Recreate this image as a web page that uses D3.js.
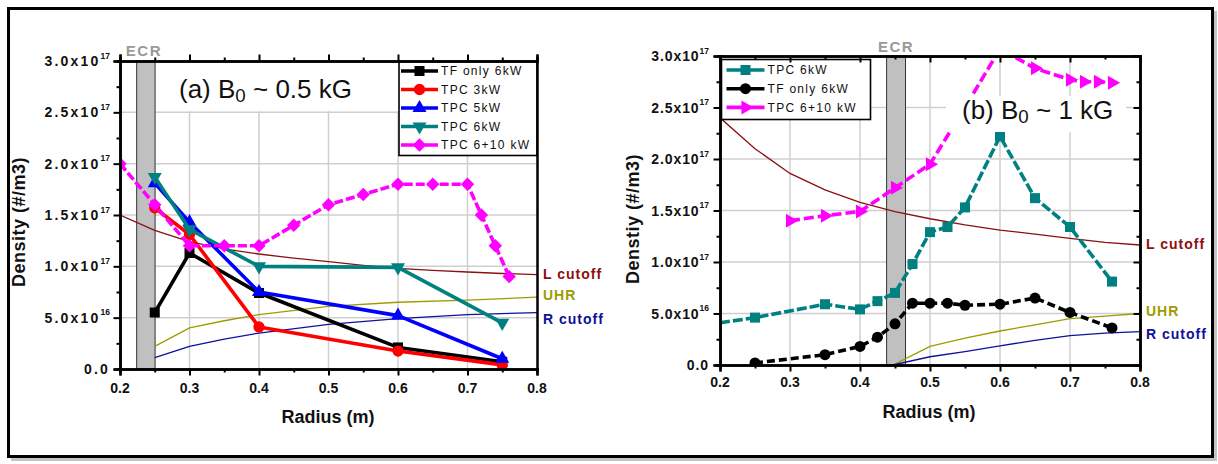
<!DOCTYPE html>
<html>
<head>
<meta charset="utf-8">
<script src="https://cdn.jsdelivr.net/npm/d3@7"></script>
<style>
  html, body { margin: 0; padding: 0; background: #fff; }
  svg { display: block; font-family: "Liberation Sans", Arial, sans-serif; }
</style>
</head>
<body>
<svg id="fig" width="1218" height="464"></svg>
<script>
// ---------- shared axis ticks (density in units of 1e17 m^-3) ----------
const xMajor = [0.2, 0.3, 0.4, 0.5, 0.6, 0.7, 0.8];
const xMinor = [0.25, 0.35, 0.45, 0.55, 0.65, 0.75];
const xTickLabels = ["0.2", "0.3", "0.4", "0.5", "0.6", "0.7", "0.8"];
const yMajor = [0, 0.5, 1.0, 1.5, 2.0, 2.5, 3.0];
const yMinor = [0.25, 0.75, 1.25, 1.75, 2.25, 2.75];
const yTickMantissa = ["0.0", "5.0x10", "1.0x10", "1.5x10", "2.0x10", "2.5x10", "3.0x10"];
const yTickExponent = ["", "16", "17", "17", "17", "17", "17"];

// ---------- panel (a): B0 ~ 0.5 kG ----------
const aRadius = [0.25, 0.3, 0.4, 0.6, 0.75];
const aTFonly6 = [0.55, 1.13, 0.74, 0.21, 0.07];
const aTPC3 = [1.57, 1.31, 0.41, 0.175, 0.04];
const aTPC5 = [1.81, 1.43, 0.75, 0.52, 0.10];
const aTPC6 = [1.87, 1.36, 1.00, 0.99, 0.45];
const aRadius610 = [0.2, 0.25, 0.3, 0.35, 0.4, 0.45, 0.5, 0.55, 0.6, 0.65, 0.7, 0.72, 0.74, 0.76];
const aTPC610 = [2.0, 1.6, 1.2, 1.2, 1.2, 1.4, 1.6, 1.7, 1.8, 1.8, 1.8, 1.5, 1.2, 0.9];
const aCutRadiusL = [0.2, 0.25, 0.3, 0.35, 0.4, 0.45, 0.5, 0.55, 0.6, 0.65, 0.7, 0.75, 0.8];
const aLcutoff = [1.5, 1.35, 1.24, 1.17, 1.12, 1.08, 1.045, 1.01, 0.98, 0.96, 0.945, 0.93, 0.92];
const aCutRadius = [0.25, 0.3, 0.35, 0.4, 0.5, 0.6, 0.7, 0.8];
const aUHR = [0.22, 0.40, 0.47, 0.53, 0.61, 0.65, 0.67, 0.70];
const aRcutoff = [0.11, 0.22, 0.29, 0.35, 0.435, 0.49, 0.53, 0.55];
const aECR = [0.224, 0.2505];

// ---------- panel (b): B0 ~ 1 kG ----------
const bRadiusTPC6 = [0.2, 0.25, 0.35, 0.4, 0.425, 0.45, 0.475, 0.5, 0.525, 0.55, 0.6, 0.65, 0.7, 0.76];
const bTPC6 = [0.41, 0.46, 0.59, 0.54, 0.62, 0.70, 0.98, 1.29, 1.34, 1.53, 2.22, 1.62, 1.34, 0.81];
const bRadiusTF = [0.25, 0.35, 0.4, 0.425, 0.45, 0.475, 0.5, 0.525, 0.55, 0.6, 0.65, 0.7, 0.76];
const bTFonly6 = [0.02, 0.10, 0.18, 0.27, 0.40, 0.60, 0.60, 0.60, 0.58, 0.59, 0.65, 0.51, 0.36];
const bRadius610 = [0.3, 0.35, 0.4, 0.45, 0.5, 0.55, 0.6, 0.65, 0.7, 0.72, 0.74, 0.76];
const bTPC610 = [1.40, 1.45, 1.49, 1.72, 1.95, 2.50, 3.07, 2.88, 2.77, 2.75, 2.75, 2.74];
const bCutRadiusL = [0.2, 0.25, 0.3, 0.35, 0.4, 0.45, 0.5, 0.55, 0.6, 0.65, 0.7, 0.75, 0.8];
const bLcutoff = [2.4, 2.1, 1.86, 1.70, 1.58, 1.49, 1.42, 1.36, 1.31, 1.27, 1.23, 1.19, 1.165];
const bCutRadius = [0.447, 0.5, 0.55, 0.6, 0.65, 0.7, 0.75, 0.8];
const bUHR = [0.0, 0.18, 0.26, 0.33, 0.39, 0.45, 0.475, 0.50];
const bRcutoff = [0.0, 0.08, 0.13, 0.185, 0.24, 0.285, 0.31, 0.325];
const bECR = [0.438, 0.465];

const COLORS = {
  black: "#000000", red: "#ff0000", blue: "#0000ff", teal: "#008080", magenta: "#ff00ff",
  lcut: "#8b1010", uhr: "#9c9c00", rcut: "#10109a", ecr: "#999999", grid: "#cfcfcf"
};

const zip = (r, v) => r.map((d, i) => ({ r: d, v: v[i] }));

const svg = d3.select("#fig");

// outer frame with a soft drop shadow
svg.append("rect").attr("x", 11).attr("y", 11).attr("width", 1206).attr("height", 450).attr("fill", "#c4c4c4");
svg.append("rect").attr("x", 8.5).attr("y", 8.5).attr("width", 1204).attr("height", 448)
  .attr("fill", "#fff").attr("stroke", "#000").attr("stroke-width", 3);

function symbolPath(kind, size) {
  switch (kind) {
    case "square": return { d: d3.symbol(d3.symbolSquare, size)(), rot: 0 };
    case "circle": return { d: d3.symbol(d3.symbolCircle, size)(), rot: 0 };
    case "triUp": return { d: d3.symbol(d3.symbolTriangle, size)(), rot: 0 };
    case "triDown": return { d: d3.symbol(d3.symbolTriangle, size)(), rot: 180 };
    case "triRight": return { d: d3.symbol(d3.symbolTriangle, size)(), rot: 90 };
    case "diamond": return { d: d3.symbol(d3.symbolSquare, size)(), rot: 45 };
  }
}

function drawPanel(p) {
  const x = d3.scaleLinear().domain([0.2, 0.8]).range([p.left, p.right]);
  const y = d3.scaleLinear().domain([0, 3]).range([p.bottom, p.top]);
  const g = svg.append("g");

  const clipId = "clip-" + p.id;
  g.append("clipPath").attr("id", clipId).append("rect")
    .attr("x", p.left).attr("y", p.top).attr("width", p.right - p.left).attr("height", p.bottom - p.top);

  // grid
  const grid = g.append("g").attr("stroke", COLORS.grid).attr("stroke-width", 1.5);
  xMajor.slice(1, -1).forEach(v => grid.append("line")
    .attr("x1", x(v)).attr("x2", x(v)).attr("y1", p.top).attr("y2", p.bottom));
  yMajor.slice(1, -1).forEach(v => grid.append("line")
    .attr("x1", p.left).attr("x2", p.right).attr("y1", y(v)).attr("y2", y(v)));

  // ECR band
  g.append("rect").attr("x", x(p.ecr[0])).attr("y", p.top)
    .attr("width", x(p.ecr[1]) - x(p.ecr[0])).attr("height", p.bottom - p.top)
    .attr("fill", "#c0c0c0").attr("stroke", "#333").attr("stroke-width", 1);
  g.append("text").attr("x", (x(p.ecr[0]) + x(p.ecr[1])) / 2 + p.ecrLabelDx).attr("y", p.top - p.ecrLabelGap)
    .attr("text-anchor", "middle").attr("font-weight", "bold").attr("font-size", 15)
    .attr("letter-spacing", 1.5).attr("fill", COLORS.ecr).text("ECR");

  const dataG = g.append("g").attr("clip-path", `url(#${clipId})`);
  const line = d3.line().x(d => x(d.r)).y(d => y(d.v));

  // cutoff curves
  p.cuts.forEach(c => {
    const pts = zip(c.r, c.v);
    dataG.append("path").attr("d", line(pts)).attr("fill", "none")
      .attr("stroke", c.color).attr("stroke-width", 1.3);
    const last = pts[pts.length - 1];
    g.append("text").attr("x", p.right + 6).attr("y", y(last.v) + c.dy).attr("dy", "0.36em")
      .attr("font-weight", "bold").attr("font-size", 14).attr("letter-spacing", 1)
      .attr("fill", c.color).text(c.name);
  });

  // measured series
  p.series.forEach(s => {
    const pts = zip(s.r, s.v);
    dataG.append("path").attr("d", line(pts)).attr("fill", "none")
      .attr("stroke", s.color).attr("stroke-width", 3.6)
      .attr("stroke-dasharray", s.dash || null).attr("stroke-linejoin", "round");
    const sym = symbolPath(s.symbol, s.size);
    dataG.selectAll(null).data(pts.slice(s.markFrom || 0)).enter().append("path")
      .attr("d", sym.d).attr("fill", s.color)
      .attr("transform", d => `translate(${x(d.r)},${y(d.v)}) rotate(${sym.rot})`);
  });

  // title with opaque backing
  g.append("rect").attr("x", p.titleBox[0]).attr("y", p.titleBox[1])
    .attr("width", p.titleBox[2]).attr("height", p.titleBox[3]).attr("fill", "#fff");
  const t = g.append("text").attr("x", p.titleX).attr("y", p.titleY)
    .attr("font-size", p.titleSize).attr("fill", "#111");
  t.append("tspan").text(p.titleA);
  t.append("tspan").attr("font-size", p.titleSize * 0.72).attr("dy", 4).text("0");
  t.append("tspan").attr("dy", -4).text(p.titleB);

  // legend
  const lg = g.append("g");
  const rows = p.series.length;
  lg.append("rect").attr("x", p.legend.x).attr("y", p.legend.y)
    .attr("width", p.legend.w).attr("height", p.legend.h)
    .attr("fill", "#fff").attr("stroke", "#000").attr("stroke-width", 1.6);
  p.legendOrder.forEach((si, i) => {
    const s = p.series[si];
    const cy = p.legend.y + p.legend.first + i * p.legend.step;
    lg.append("line").attr("x1", p.legend.x + p.legend.l0).attr("x2", p.legend.x + p.legend.l1)
      .attr("y1", cy).attr("y2", cy).attr("stroke", s.color).attr("stroke-width", 3.6);
    const sym = symbolPath(s.symbol, s.size);
    lg.append("path").attr("d", sym.d).attr("fill", s.color)
      .attr("transform", `translate(${p.legend.x + (p.legend.l0 + p.legend.l1) / 2},${cy}) rotate(${sym.rot})`);
    lg.append("text").attr("x", p.legend.x + p.legend.tx).attr("y", cy).attr("dy", "0.36em")
      .attr("font-size", 12).attr("letter-spacing", 1.3).attr("fill", "#111").text(s.name);
  });

  // axes
  const styleAxis = sel => {
    sel.select(".domain").attr("stroke", "#000").attr("stroke-width", 2.5);
    sel.selectAll(".tick line").attr("stroke", "#000").attr("stroke-width", 2);
    sel.selectAll(".tick text").remove();
  };
  const bottom = d3.axisBottom(x).tickSizeOuter(0).tickFormat("");
  g.append("g").attr("transform", `translate(0,${p.bottom})`)
    .call(bottom.tickValues(xMinor).tickSize(3.5)).call(styleAxis);
  g.append("g").attr("transform", `translate(0,${p.bottom})`)
    .call(d3.axisBottom(x).tickSizeOuter(0).tickFormat("").tickValues(xMajor).tickSize(6.5)).call(styleAxis);
  g.append("g").attr("transform", `translate(0,${p.top})`)
    .call(d3.axisTop(x).tickSizeOuter(0).tickFormat("").tickValues(xMinor).tickSize(3.5 * p.mirrorDir)).call(styleAxis);
  g.append("g").attr("transform", `translate(0,${p.top})`)
    .call(d3.axisTop(x).tickSizeOuter(0).tickFormat("").tickValues(xMajor).tickSize(6.5 * p.mirrorDir)).call(styleAxis);
  g.append("g").attr("transform", `translate(${p.left},0)`)
    .call(d3.axisLeft(y).tickSizeOuter(0).tickFormat("").tickValues(yMinor).tickSize(3.5)).call(styleAxis);
  g.append("g").attr("transform", `translate(${p.left},0)`)
    .call(d3.axisLeft(y).tickSizeOuter(0).tickFormat("").tickValues(yMajor).tickSize(6.5)).call(styleAxis);
  const rightAx = g.append("g").attr("transform", `translate(${p.right},0)`);
  if (p.rightTicks) {
    rightAx.call(d3.axisRight(y).tickSizeOuter(0).tickFormat("").tickValues(yMinor).tickSize(-3.5)).call(styleAxis);
    g.append("g").attr("transform", `translate(${p.right},0)`)
      .call(d3.axisRight(y).tickSizeOuter(0).tickFormat("").tickValues(yMajor).tickSize(-6.5)).call(styleAxis);
  } else {
    rightAx.call(d3.axisRight(y).tickSizeOuter(0).tickFormat("").tickValues([]).tickSize(0)).call(styleAxis);
  }

  // tick labels
  xMajor.forEach((v, i) => g.append("text").attr("x", x(v)).attr("y", p.bottom + p.xLabelGap)
    .attr("text-anchor", "middle").attr("font-weight", "bold").attr("font-size", 14)
    .attr("fill", "#111").text(xTickLabels[i]));
  yMajor.forEach((v, i) => {
    const tx = g.append("text").attr("x", p.left - p.yLabelGap).attr("y", y(v)).attr("dy", "0.36em")
      .attr("text-anchor", "end").attr("font-weight", "bold").attr("font-size", 14)
      .attr("fill", "#111").attr("letter-spacing", p.yLabelSpacing);
    tx.append("tspan").text(yTickMantissa[i]);
    if (yTickExponent[i]) tx.append("tspan").attr("font-size", 8.5).attr("dy", -7.5)
      .attr("letter-spacing", 0).text(yTickExponent[i]);
  });

  // axis titles
  g.append("text").attr("x", p.xTitle[0]).attr("y", p.xTitle[1]).attr("text-anchor", "middle")
    .attr("font-weight", "bold").attr("font-size", 18).attr("fill", "#111").text("Radius (m)");
  g.append("text").attr("transform", `translate(${p.yTitle[0]},${p.yTitle[1]}) rotate(-90)`)
    .attr("text-anchor", "middle").attr("font-weight", "bold").attr("font-size", 18)
    .attr("letter-spacing", 0.5).attr("fill", "#111").text(p.yTitleText);
}

drawPanel({
  id: "a", left: 120, right: 537, top: 61, bottom: 369,
  ecr: aECR, ecrLabelDx: -2, ecrLabelGap: 5, mirrorDir: 1, rightTicks: false,
  xLabelGap: 24, yLabelGap: 10, yLabelSpacing: 2.2,
  xTitle: [328, 423], yTitle: [25, 222], yTitleText: "Density (#/m3)",
  titleBox: [156, 62, 243, 49], titleX: 179, titleY: 98, titleSize: 26,
  titleA: "(a) B", titleB: " ~ 0.5 kG",
  cuts: [
    { name: "L cutoff", r: aCutRadiusL, v: aLcutoff, color: COLORS.lcut, dy: -1 },
    { name: "UHR", r: aCutRadius, v: aUHR, color: COLORS.uhr, dy: -2 },
    { name: "R cutoff", r: aCutRadius, v: aRcutoff, color: COLORS.rcut, dy: 6 }
  ],
  series: [
    { name: "TF only 6kW", r: aRadius, v: aTFonly6, color: COLORS.black, symbol: "square", size: 100 },
    { name: "TPC 3kW", r: aRadius, v: aTPC3, color: COLORS.red, symbol: "circle", size: 100 },
    { name: "TPC 5kW", r: aRadius, v: aTPC5, color: COLORS.blue, symbol: "triUp", size: 85 },
    { name: "TPC 6kW", r: aRadius, v: aTPC6, color: COLORS.teal, symbol: "triDown", size: 85 },
    { name: "TPC 6+10 kW", r: aRadius610, v: aTPC610, color: COLORS.magenta, symbol: "diamond", size: 90, dash: "9,3" }
  ],
  legendOrder: [0, 1, 2, 3, 4],
  legend: { x: 399, y: 61.5, w: 138, h: 94, first: 9.5, step: 18.5, l0: 2, l1: 39, tx: 42 }
});

drawPanel({
  id: "b", left: 720, right: 1140, top: 56, bottom: 365,
  ecr: bECR, ecrLabelDx: 0, ecrLabelGap: 4, mirrorDir: -1, rightTicks: true,
  xLabelGap: 22, yLabelGap: 11, yLabelSpacing: 0.9,
  xTitle: [929, 418], yTitle: [639, 219], yTitleText: "Denstiy (#/m3)",
  titleBox: [946, 96, 180, 36], titleX: 962, titleY: 119, titleSize: 26,
  titleA: "(b) B", titleB: " ~ 1 kG",
  cuts: [
    { name: "L cutoff", r: bCutRadiusL, v: bLcutoff, color: COLORS.lcut, dy: -1 },
    { name: "UHR", r: bCutRadius, v: bUHR, color: COLORS.uhr, dy: -3 },
    { name: "R cutoff", r: bCutRadius, v: bRcutoff, color: COLORS.rcut, dy: 2 }
  ],
  series: [
    { name: "TPC 6kW", r: bRadiusTPC6, v: bTPC6, color: COLORS.teal, symbol: "square", size: 100, dash: "10,3", markFrom: 1 },
    { name: "TF only 6kW", r: bRadiusTF, v: bTFonly6, color: COLORS.black, symbol: "circle", size: 95, dash: "8,4" },
    { name: "TPC 6+10 kW", r: bRadius610, v: bTPC610, color: COLORS.magenta, symbol: "triRight", size: 85, dash: "10,4" }
  ],
  legendOrder: [0, 1, 2],
  legend: { x: 721.5, y: 59.5, w: 149, h: 60, first: 10.5, step: 18.7, l0: 5, l1: 43, tx: 46 }
});
</script>
</body>
</html>
